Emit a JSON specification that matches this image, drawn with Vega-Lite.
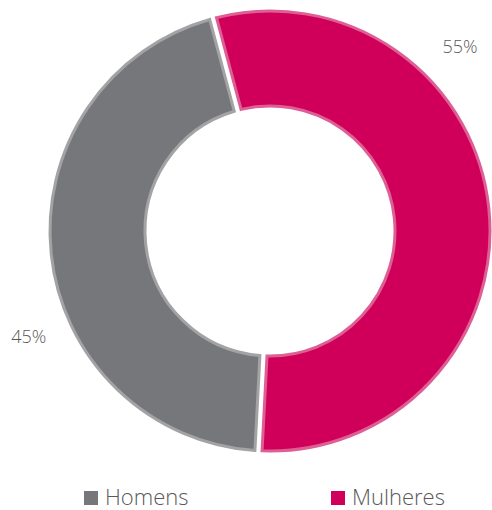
{
  "$schema": "https://vega.github.io/schema/vega-lite/v6.json",
  "width": 540,
  "height": 462,
  "autosize": {"type": "none"},
  "padding": {"left": 0, "top": 0, "right": 0, "bottom": 48},
  "background": "white",
  "config": {"view": {"stroke": null}, "font": "Open Sans"},
  "data": {
    "values": [
      {"genero": "Homens", "valor": 45, "rotulo": "45%"},
      {"genero": "Mulheres", "valor": 55, "rotulo": "55%"}
    ]
  },
  "layer": [
    {
      "mark": {"type": "arc", "outerRadius": 220, "innerRadius": 125, "padAngle": 0.028, "strokeWidth": 3},
      "encoding": {
        "theta": {"field": "valor", "type": "quantitative", "stack": true, "scale": {"range": [3.194, 9.477]}},
        "color": {
          "field": "genero",
          "type": "nominal",
          "scale": {"domain": ["Homens", "Mulheres"], "range": ["#75777b", "#d0005a"]},
          "legend": {
            "title": null,
            "orient": "none",
            "direction": "horizontal",
            "columns": 2,
            "legendX": 80,
            "legendY": 487,
            "symbolType": "square",
            "symbolSize": 196,
            "symbolStrokeWidth": 0,
            "symbolOpacity": 1,
            "labelFont": "Open Sans",
            "labelFontSize": 22,
            "labelFontWeight": 300,
            "labelColor": "#595959",
            "labelOffset": 3,
            "columnPadding": 138,
            "labelLimit": 200
          }
        },
        "stroke": {
          "field": "genero",
          "type": "nominal",
          "scale": {"domain": ["Homens", "Mulheres"], "range": ["#a3a3a5", "#dd5f93"]},
          "legend": null
        }
      }
    },
    {
      "mark": {"type": "text", "radius": 264, "font": "Open Sans", "fontSize": 18, "fontWeight": 300, "color": "#595959", "align": "center", "baseline": "middle"},
      "encoding": {
        "theta": {"field": "valor", "type": "quantitative", "stack": true, "scale": {"domain": [0, 100], "range": [3.037, 8.622]}},
        "detail": {"field": "genero", "type": "nominal"},
        "text": {"field": "rotulo", "type": "nominal"}
      }
    }
  ],
  "resolve": {"scale": {"theta": "independent"}}
}
